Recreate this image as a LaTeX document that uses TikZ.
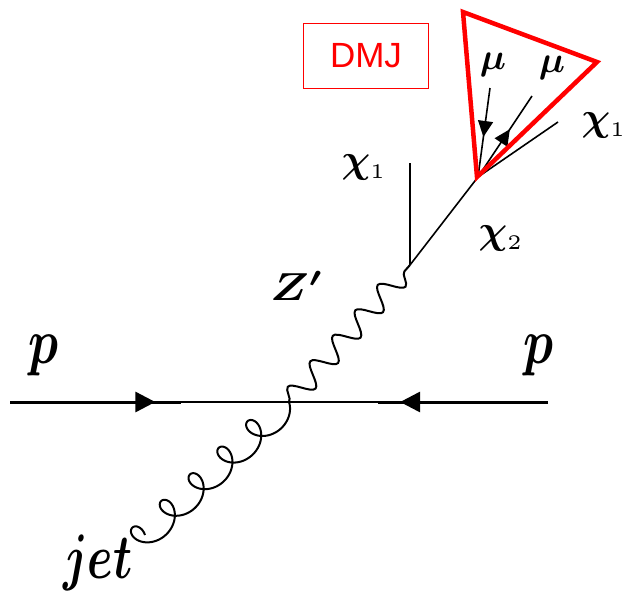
\documentclass[tikz,border=0pt]{standalone}
\usepackage{fontspec}
\usepackage{graphicx}
\usetikzlibrary{arrows.meta,decorations.pathmorphing,decorations.markings}
\newfontfamily\dmjfont{Liberation Sans}
\newcommand{\smallsub}[1]{\mbox{\fontsize{5.2}{6}\selectfont #1}}
\tikzset{
  thickline/.style={line width=3pt},
  thinline/.style={line width=1.4pt},
  chiline/.style={line width=1.6pt},
  photon/.style={line width=2pt, decorate, decoration={snake, segment length=34pt, amplitude=11pt}},
  gluonline/.style={line width=2pt, line join=round},
  midarrow/.style={postaction={decorate}, decoration={markings, mark=at position #1 with {\arrow{Triangle[length=20pt,width=20pt]}}}},
  smallarrow/.style={postaction={decorate}, decoration={markings, mark=at position #1 with {\arrow{Triangle[length=16pt,width=15pt]}}}},
  lbl/.style={inner sep=0pt, text=black},
  redtri/.style={draw=red, line width=4.5pt, line join=miter},
  dmjbox/.style={draw=red, line width=1.5pt, minimum width=125pt, minimum height=65pt, inner sep=0pt, text=red}
}
\begin{document}
\begin{tikzpicture}[x=1pt,y=-1pt]
\useasboundingbox (0,0) rectangle (627,590);
% coordinates
\coordinate (A) at (10,402);
\coordinate (L1) at (181,402);
\coordinate (R1) at (378,402);
\coordinate (B) at (548,402);
\coordinate (V1) at (289,402);
\coordinate (V2) at (410,265);
\coordinate (C1) at (410,163);
\coordinate (V3) at (478,177);
\coordinate (M1) at (490,88);
\coordinate (M2) at (532,96);
\coordinate (C2) at (558,122);
\coordinate (G) at (145,535);
\coordinate (T1) at (463,12);
\coordinate (T2) at (597,62);
\coordinate (T3) at (477,177);
% proton lines
\draw[thickline, midarrow=0.85] (A) -- (L1);
\draw[thinline] (L1) -- (R1);
\draw[thickline, midarrow=0.87] (B) -- (R1);
% gluon (from G to V1, loops on the upper-left side)
\draw[gluonline] plot[domain=-90:1710, samples=600, smooth]
  ({145 + (-4.2 + 0.108893*\x - 14*sin(\x))*0.7346 + (14*cos(\x))*(-0.6785)},
   {535 + (-4.2 + 0.108893*\x - 14*sin(\x))*(-0.6785) + (14*cos(\x))*(-0.7346)});
% photon
\draw[photon] (V1) -- (V2);
% chi lines
\draw[chiline] (V2) -- (C1);
\draw[chiline] (V2) -- (V3);
\draw[chiline, smallarrow=0.55] (M1) -- (V3);
\draw[chiline, smallarrow=0.59] (V3) -- (M2);
\draw[chiline] (V3) -- (C2);
% red triangle
\draw[redtri] (T1) -- (T2) -- (T3) -- cycle;
% labels
\node[dmjbox] (dmj) at (366,56) {\dmjfont\fontsize{35}{40}\selectfont DMJ};
\node[lbl] (pL) at (44,355) {\scalebox{5.0}[6.4]{\boldmath$p$}};
\node[lbl] (pR) at (539,355) {\scalebox{5.0}[6.4]{\boldmath$p$}};
\node[lbl] (zp) at (297,286) {\scalebox{4.6}[3.9]{\boldmath$Z'$}};
\node[lbl] (chi1a) at (364,167) {\scalebox{4.0}{\boldmath$\chi_{\smallsub{1}}$}};
\node[lbl] (chi2) at (501,238) {\scalebox{4.0}{\boldmath$\chi_{\smallsub{2}}$}};
\node[lbl] (chi1b) at (604,125) {\scalebox{4.0}{\boldmath$\chi_{\smallsub{1}}$}};
\node[lbl] (mu1) at (493,65) {\scalebox{3.7}{\boldmath$\mu$}};
\node[lbl] (mu2) at (552,68) {\scalebox{3.7}{\boldmath$\mu$}};
\node[lbl, anchor=base west] (jet) at (63,578) {\scalebox{4.6}[6.3]{\boldmath$jet$}};
\end{tikzpicture}
\end{document}
